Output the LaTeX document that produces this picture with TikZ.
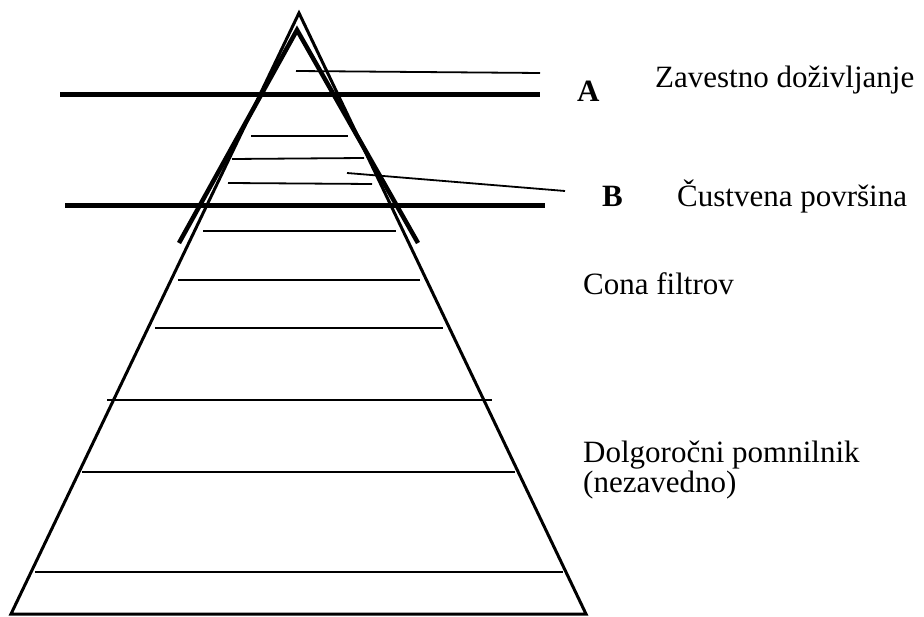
\documentclass[tikz,border=0pt]{standalone}
\usepackage{fontspec}
\setmainfont{Liberation Serif}

\begin{document}
\begin{tikzpicture}[x=1pt, y=-1pt,
        layer/.style={black, line width=1.8pt},
        bar/.style={black, line width=5pt},
        label/.style={anchor=base west, inner sep=0pt, font=\fontsize{31}{31}\selectfont}]
            \useasboundingbox (0,0) rectangle (924,617);

            % pyramid
            \draw[black, line width=3pt] (299,13) -- (11,614) -- (586,614) -- cycle;
            \draw[black, line width=4.5pt] (179,243) -- (297,30) -- (418,243);

            \draw[bar] (60,95) -- (540,95);
            \draw[bar] (65,206) -- (545,206);

            \draw[layer] (251,136) -- (348,136);
            \draw[layer] (232,159) -- (364,158);
            \draw[layer] (228,183) -- (372,184);
            \draw[layer] (203,231) -- (396,231);
            \draw[layer] (178,280) -- (420,280);
            \draw[layer] (155,328) -- (443,328);
            \draw[layer] (107,400) -- (492,400);
            \draw[layer] (82,472) -- (515,472);
            \draw[layer] (35,572) -- (563,572);

            % labels
            \node[label, font=\fontsize{31}{31}\selectfont\bfseries] (a) at (577,102) {A};
            \node[label] (zavestno) at (655,88) {Zavestno doživljanje};
            \node[label, font=\fontsize{31}{31}\selectfont\bfseries] (b) at (602,207) {B};
            \node[label] (custvena) at (677,207) {Čustvena površina};
            \node[label] (cona) at (583,295) {Cona filtrov};
            \node[label] (dolgorocni) at (583,463) {Dolgoročni pomnilnik};
            \node[label] (nezavedno) at (583,493) {(nezavedno)};

            \coordinate (aStart) at (296,71);
            \coordinate (aEnd) at (540,73);
            \coordinate (bStart) at (347,173);
            \coordinate (bEnd) at (565,191);
            \draw[layer] (aStart) -- (aEnd);
            \draw[layer] (bStart) -- (bEnd);
        \end{tikzpicture}
\end{document}
